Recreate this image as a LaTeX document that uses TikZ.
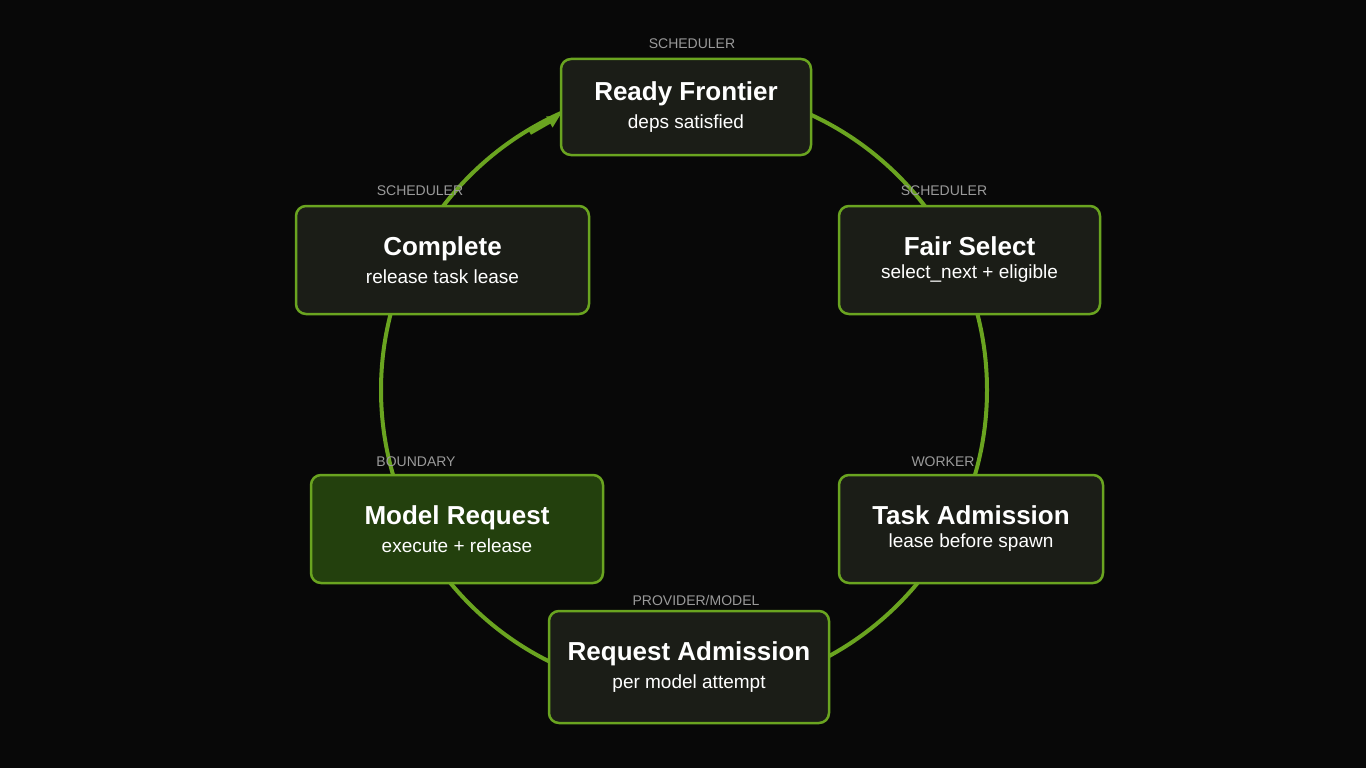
\documentclass[tikz,border=0pt]{standalone}
\usepackage{fontspec}
\setmainfont{Liberation Sans}
\usetikzlibrary{arrows.meta}
\definecolor{bg}{HTML}{080808}
\definecolor{boxfill}{HTML}{1B1D17}
\definecolor{hifill}{HTML}{23400D}
\definecolor{gr}{HTML}{6AA420}
\definecolor{lab}{HTML}{9A9A9A}
\tikzset{
  box/.style={draw=gr,line width=2.5pt,fill=boxfill,rounded corners=10pt,align=center,text=white,inner sep=0pt},
  tag/.style={text=lab,font=\fontsize{14}{14}\selectfont},
}
\newcommand{\bx}[2]{{\fontsize{26}{30}\selectfont\bfseries #1}\\[8pt]{\fontsize{19}{22}\selectfont #2}}
\begin{document}
\begin{tikzpicture}[x=1pt,y=-1pt]
\fill[bg] (0,0) rectangle (1366,768);
\useasboundingbox (0,0) rectangle (1366,768);
\coordinate (c) at (684,390);
\draw[gr,line width=4pt] (c) circle (303);
\node[box,minimum width=250,minimum height=96] (rf) at (686,107) {\bx{Ready Frontier}{deps satisfied}};
\node[box,minimum width=261,minimum height=108] (fs) at (969.5,260) {\bx{Fair Select}{select\_next + eligible}};
\node[box,minimum width=264,minimum height=108] (ta) at (971,529) {\bx{Task Admission}{lease before spawn}};
\node[box,minimum width=280,minimum height=112] (ra) at (689,667) {\bx{Request Admission}{per model attempt}};
\node[box,fill=hifill,minimum width=292,minimum height=108] (mr) at (457,529) {\bx{Model Request}{execute + release}};
\node[box,minimum width=293,minimum height=108] (co) at (442.5,260) {\bx{Complete}{release task lease}};
\draw[gr,line width=4pt,-{Triangle[length=12pt,width=12pt]}] (530,133) -- (rf.west |- 0,116);
\node[tag] (t1) at (692,44) {SCHEDULER};
\node[tag] (t2) at (420,191) {SCHEDULER};
\node[tag] (t3) at (944,191) {SCHEDULER};
\node[tag] (t4) at (943,462) {WORKER};
\node[tag] (t5) at (416,462) {BOUNDARY};
\node[tag] (t6) at (696,600) {PROVIDER/MODEL};
\end{tikzpicture}
\end{document}
